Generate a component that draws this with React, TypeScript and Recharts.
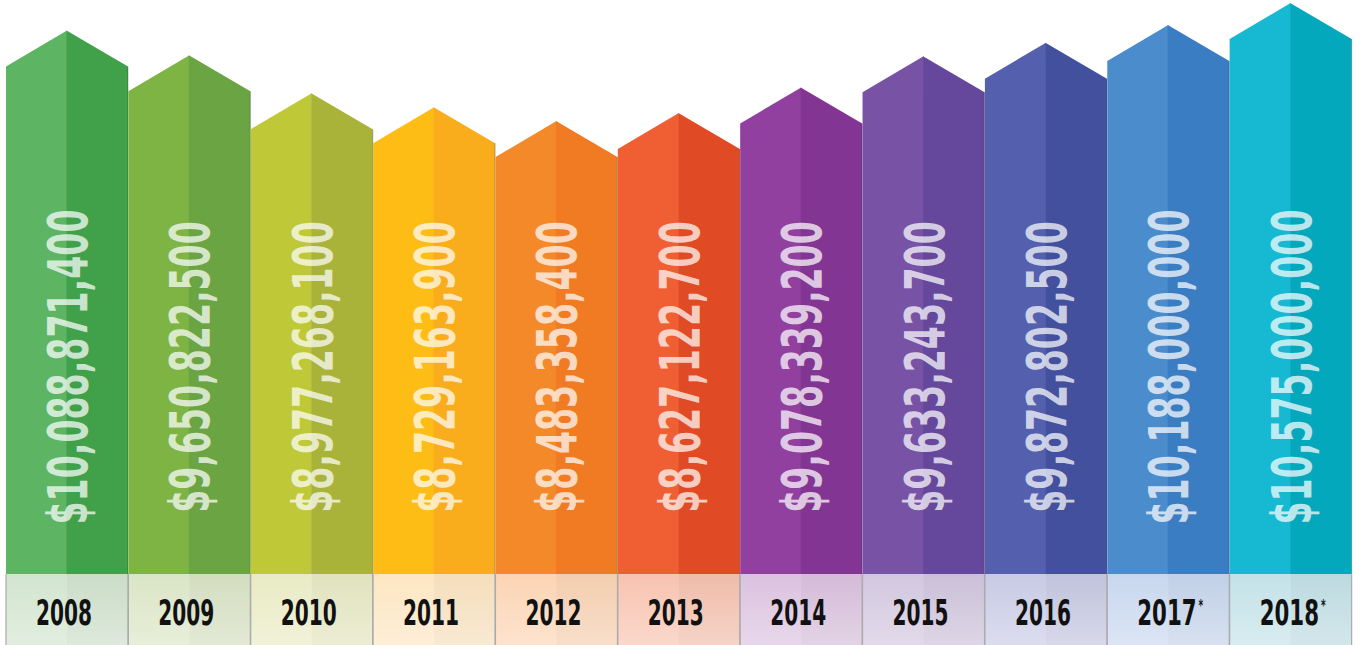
import * as React from "react";
import { BarChart, Bar, XAxis, YAxis } from "recharts";

// years shown under each arrow ("*" marks projected figures)
const YEARS = ["2008", "2009", "2010", "2011", "2012", "2013", "2014", "2015", "2016", "2017*", "2018*"];

// total value per year, in dollars
const VALUES = [
  10088871400, 9650822500, 8977268100, 8729163900, 8483358400, 8627122700,
  9078339200, 9633243700, 9872802500, 10188000000, 10575000000,
];

// left (lit) and right (shaded) faces of each arrow
const LIGHT_FACE = ["#5db563", "#7db443", "#bfc836", "#fdbd15", "#f4892a", "#ef5f33", "#9140a0", "#7752a5", "#5460ad", "#4a8ccc", "#17b9d2"];
const DARK_FACE = ["#41a04a", "#6aa443", "#a9b33a", "#f9ad1c", "#f07b22", "#e04a24", "#833594", "#65479b", "#42509e", "#3b7dc3", "#04a8bc"];
// pale reflection under each arrow
const BAND = ["#d2e5cf", "#dbe5c6", "#e9ebc4", "#fde6c2", "#fcd4b4", "#f8c3b0", "#dbc2df", "#d2c7df", "#c8cae5", "#c8d7ef", "#c3e2e8"];

const data = YEARS.map((year, i) => ({ year, value: VALUES[i] }));

const WIDTH = 1364;
const HEIGHT = 645;
const BAND_H = 71;
const RISE = 36;
const TEXT_MID = 367;
const FONT = "'Liberation Sans Narrow', 'DejaVu Sans Condensed', 'Roboto', sans-serif";

const money = (v: number) => "$" + v.toLocaleString("en-US");

// rough condensed advance widths so the vertical labels get the same squeeze
const valueLength = (s: string) =>
  s.split("").reduce((n, c) => n + (c === "," ? 11 : 23.5), 0);

function Arrow(props: any) {
  const { x, y, width, height, index, payload } = props;
  const bottom = y + height;
  const cx = x + width / 2;
  const right = x + width;
  const label = money(payload.value);
  const raw: string = payload.year;
  const star = raw.endsWith("*");
  const year = raw.replace("*", "");

  return (
    <g>
      <polygon
        points={`${x},${bottom} ${x},${y + RISE} ${cx},${y} ${cx},${bottom}`}
        fill={LIGHT_FACE[index]}
      />
      <polygon
        points={`${cx - 0.5},${y} ${right},${y + RISE} ${right},${bottom} ${cx - 0.5},${bottom}`}
        fill={DARK_FACE[index]}
      />
      <line x1={right} y1={y + RISE} x2={right} y2={bottom} stroke="rgba(0,0,0,0.22)" strokeWidth={1.2} />

      <text
        x={cx}
        y={TEXT_MID + 20}
        transform={`rotate(-90, ${cx}, ${TEXT_MID})`}
        textAnchor="middle"
        fontFamily={FONT}
        fontWeight={700}
        fontSize={56}
        textLength={valueLength(label)}
        lengthAdjust="spacingAndGlyphs"
        fill="#ffffff"
        fillOpacity={0.72}
      >
        {label}
      </text>

      <rect x={x} y={bottom} width={width} height={BAND_H} fill={BAND[index]} />
      <rect x={cx} y={bottom} width={width / 2} height={BAND_H} fill="rgba(0,0,0,0.03)" />
      <rect x={x} y={bottom} width={width} height={BAND_H} fill="url(#bandFade)" />
      <line x1={x} y1={bottom} x2={x} y2={bottom + BAND_H} stroke="#aaaaaa" strokeWidth={1.2} />
      <line x1={right} y1={bottom} x2={right} y2={bottom + BAND_H} stroke="#aaaaaa" strokeWidth={1.2} />

      <text
        x={star ? cx + 2 : cx - 3}
        y={bottom + 51}
        textAnchor="middle"
        fontFamily={FONT}
        fontWeight={700}
        fontSize={36}
        textLength={star ? 66 : 56}
        lengthAdjust="spacingAndGlyphs"
        fill="#111111"
      >
        {year}
        {star && (
          <tspan fontSize={15} dx={3} dy={-14}>
            *
          </tspan>
        )}
      </text>
    </g>
  );
}

export default function App() {
  return (
    <div style={{ position: "absolute", left: 0, top: 0, width: WIDTH, height: HEIGHT, background: "#ffffff" }}>
      <BarChart
        width={WIDTH}
        height={HEIGHT}
        data={data}
        margin={{ top: 0, right: 12, bottom: BAND_H, left: 6 }}
        barCategoryGap={0}
        barGap={0}
      >
        <defs>
          <linearGradient id="bandFade" x1="0" y1="0" x2="0" y2="1">
            <stop offset="0" stopColor="#ffffff" stopOpacity={0} />
            <stop offset="1" stopColor="#ffffff" stopOpacity={0.35} />
          </linearGradient>
        </defs>
        <XAxis dataKey="year" hide />
        <YAxis hide domain={[450000000, 10630000000]} />
        <Bar dataKey="value" shape={<Arrow />} isAnimationActive={false} />
      </BarChart>
    </div>
  );
}
